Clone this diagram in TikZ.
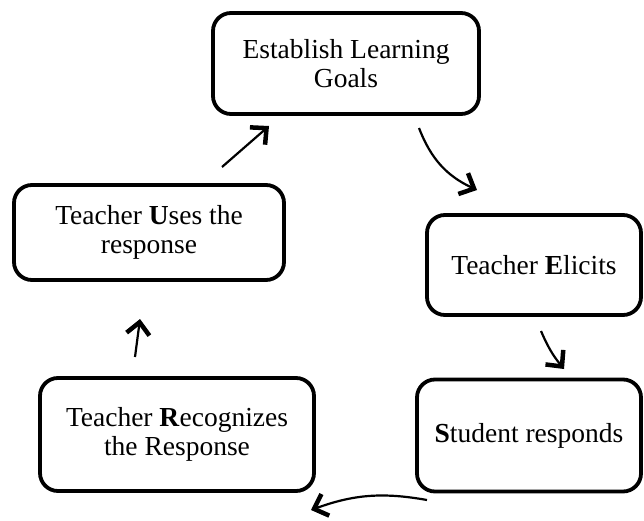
\documentclass[tikz,border=0pt]{standalone}
\usepackage{fontspec}
\setmainfont{Liberation Serif}
\usetikzlibrary{arrows.meta}
\begin{document}
\begin{tikzpicture}[x=1pt,y=-1pt,
 box/.style={draw,line width=3.8pt,rounded corners=18pt,align=center,
   font=\fontsize{27.5}{29}\selectfont,inner sep=0pt},
 flow/.style={line width=2.2pt,-{Straight Barb[length=12pt,width=23pt,line width=4.5pt]}}]
\useasboundingbox (0,0) rectangle (644,521);
\node[box,minimum width=266pt,minimum height=101pt] (goals) at (346,63.5) {Establish Learning\\Goals};
\node[box,minimum width=214pt,minimum height=100pt] (elicits) at (534,265) {Teacher \textbf{E}licits};
\node[box,minimum width=224pt,minimum height=112pt] (student) at (529,435.5) {\textbf{S}tudent responds};
\node[box,minimum width=274pt,minimum height=113pt] (recog) at (177,434.5) {Teacher \textbf{R}ecognizes\\the Response};
\node[box,minimum width=270pt,minimum height=95pt] (uses) at (149,232.5) {Teacher \textbf{U}ses the\\response};
\coordinate (a1s) at (419,128); \coordinate (a1e) at (477,190);
\coordinate (a2s) at (541,331); \coordinate (a2e) at (564,369);
\coordinate (a3s) at (427,500); \coordinate (a3e) at (311,510);
\coordinate (a4s) at (135,357); \coordinate (a4e) at (140,319);
\coordinate (a5s) at (222,167); \coordinate (a5e) at (269,126);
\draw[flow] (a1s) to[bend right=22] (a1e);
\draw[flow] (a2s) to[bend right=8] (a2e);
\draw[flow] (a3s) to[bend right=15] (a3e);
\draw[flow] (a4s) -- (a4e);
\draw[flow] (a5s) -- (a5e);
\end{tikzpicture}
\end{document}
